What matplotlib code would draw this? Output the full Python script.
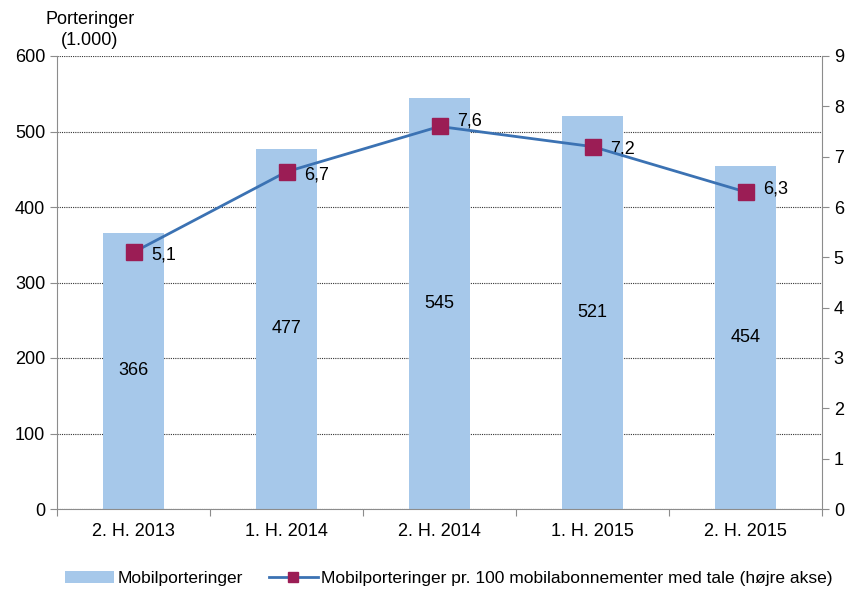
import matplotlib.pyplot as plt

plt.rcParams['font.family'] = ['Liberation Sans', 'DejaVu Sans']

perioder = ['2. H. 2013', '1. H. 2014', '2. H. 2014', '1. H. 2015', '2. H. 2015']
porteringer = [366, 477, 545, 521, 454]
pr_100 = [5.1, 6.7, 7.6, 7.2, 6.3]
pr_100_labels = ['5,1', '6,7', '7,6', '7,2', '6,3']

bar_color = '#A6C8EA'
line_color = '#3B72B3'
marker_color = '#9B1D55'
grey = '#8C8C8C'

fig = plt.figure(figsize=(8.51, 5.91), dpi=100)
ax = fig.add_axes([57 / 851, 82 / 591, 765 / 851, 453 / 591])
x = range(len(perioder))

ax.bar(x, porteringer, width=0.4, color=bar_color, zorder=2, label='Mobilporteringer')
for i, v in enumerate(porteringer):
    ax.text(i, v / 2, str(v), ha='center', va='center', fontsize=13, zorder=5)

ax.set_ylim(0, 600)
ax.set_xlim(-0.5, len(perioder) - 0.5)
ax.set_yticks(range(0, 601, 100))
ax.yaxis.grid(True, linestyle=(0, (1, 1)), color='#333333', linewidth=0.8, zorder=1)
ax.set_xticks([i + 0.5 for i in range(-1, len(perioder))], minor=False)
ax.set_xticklabels([])
ax.set_xticks(list(x), minor=True)
ax.set_xticklabels(perioder, minor=True)
ax.tick_params(axis='x', which='minor', length=0, labelsize=13, pad=10)
ax.tick_params(axis='x', which='major', length=5, color=grey)
ax.tick_params(axis='y', labelsize=13, color=grey, length=5)
for s in ['top', 'right']:
    ax.spines[s].set_visible(False)
ax.spines['left'].set_color(grey)
ax.spines['bottom'].set_color(grey)

ax2 = ax.twinx()
ax2.plot(x, pr_100, color=line_color, linewidth=2, marker='s', markersize=11,
         markerfacecolor=marker_color, markeredgecolor=marker_color, zorder=4,
         label='Mobilporteringer pr. 100 mobilabonnementer med tale (højre akse)')
offsets = [-2, -2, 4, -2, 2]
for i, (v, lab) in enumerate(zip(pr_100, pr_100_labels)):
    ax2.annotate(lab, (i, v), xytext=(13, offsets[i]), textcoords='offset points',
                 ha='left', va='center', fontsize=13)
ax2.set_ylim(0, 9)
ax2.set_yticks(range(0, 10))
ax2.tick_params(axis='y', labelsize=13, color=grey, length=5)
for s in ['top', 'left', 'bottom']:
    ax2.spines[s].set_visible(False)
ax2.spines['right'].set_color(grey)

fig.text(90 / 851, 1 - 30 / 591, 'Porteringer\n(1.000)', ha='center', va='center',
         fontsize=13, linespacing=1.3)

h1, l1 = ax.get_legend_handles_labels()
h2, l2 = ax2.get_legend_handles_labels()
fig.legend(h1 + h2, l1 + l2, loc='lower left', bbox_to_anchor=(55 / 851, -0.01), ncol=2,
           frameon=False, fontsize=12.5, handlelength=2.8, columnspacing=1.5,
           handletextpad=0.2, markerscale=0.7, borderaxespad=0.2)

fig.savefig('out.png', dpi=100)
